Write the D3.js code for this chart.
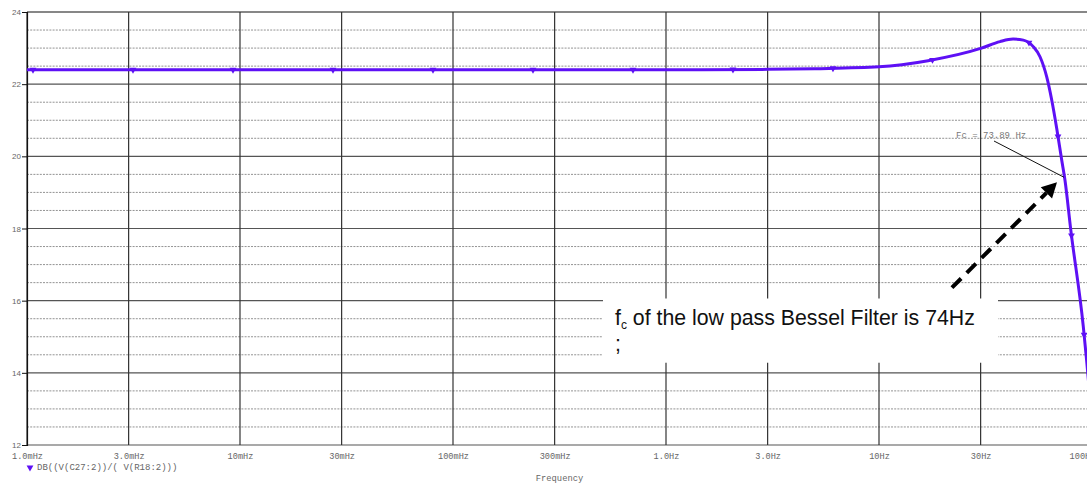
<!DOCTYPE html>
<html><head><meta charset="utf-8">
<script src="https://cdn.jsdelivr.net/npm/d3@7"></script>
<style>html,body{margin:0;padding:0;background:#fff;overflow:hidden}</style>
</head><body>
<svg id="c" width="1087" height="485"></svg>
<script>
// ---- data ----
const freqHz = [0.001, 0.01, 0.1, 1, 3, 5, 10, 17, 30, 37, 42.6, 47.6, 53, 57, 61.3, 64.7, 68.3, 72.1, 74.7, 79.4, 91, 94.4, 100];
const gainDb = [22.40, 22.40, 22.40, 22.40, 22.41, 22.43, 22.48, 22.65, 22.99, 23.18, 23.25, 23.22, 23.04, 22.76, 22.20, 21.56, 20.77, 19.89, 19.33, 17.99, 15.29, 14.33, 12.7];
const xTicks = [0.001, 0.003, 0.01, 0.03, 0.1, 0.3, 1, 3, 10, 30, 100];
const xTickLabels = ["1.0mHz", "3.0mHz", "10mHz", "30mHz", "100mHz", "300mHz", "1.0Hz", "3.0Hz", "10Hz", "30Hz", "100Hz"];
const yTicks = [12, 14, 16, 18, 20, 22, 24];
const yMinor = d3.range(12, 24.01, 0.5);
const traceName = "DB((V(C27:2))/( V(R18:2)))";
const xTitle = "Frequency";
const fcHz = 73.89, fcDb = 19.42, fcLabel = "Fc = 73.89 Hz";
const noteText = ["of the low pass Bessel Filter is 74Hz", ";"];

// ---- layout ----
const L = 27, R = 1092, T = 12, B = 445;
const svg = d3.select("#c");
const x = d3.scaleLog().domain([0.001, 100]).range([L, R]);
const y = d3.scaleLinear().domain([12, 24]).range([B, T]);
const mono = "'Liberation Mono','DejaVu Sans Mono',monospace";
const sans = "'Liberation Sans',Arial,sans-serif";

// minor horizontal grid
svg.append("g").selectAll("line").data(yMinor.filter(v => v % 2 !== 0)).join("line")
  .attr("x1", L).attr("x2", R).attr("y1", d => y(d)).attr("y2", d => y(d))
  .attr("stroke", "#777").attr("stroke-width", 0.8).attr("stroke-dasharray", "2,1.2");
// major horizontal grid
svg.append("g").selectAll("line").data(yTicks).join("line")
  .attr("x1", L).attr("x2", R).attr("y1", d => y(d)).attr("y2", d => y(d))
  .attr("stroke", d => (d === 24 ? "#111" : "#555")).attr("stroke-width", 1.2);
// vertical grid
svg.append("g").selectAll("line").data(xTicks).join("line")
  .attr("x1", d => x(d)).attr("x2", d => x(d)).attr("y1", T).attr("y2", B)
  .attr("stroke", "#333").attr("stroke-width", 1.2);

// y axis ticks and labels
const yAxis = d3.axisLeft(y).tickValues(yTicks).tickSize(5).tickFormat(d3.format("d"));
const ya = svg.append("g").attr("transform", `translate(${L},0)`).call(yAxis);
ya.select(".domain").attr("stroke", "#111").attr("stroke-width", 1.2);
ya.selectAll(".tick line").attr("stroke", "#111");
ya.selectAll(".tick text").attr("font-family", sans).attr("font-size", 8).attr("fill", "#666").attr("x", -6);

// x axis labels
const xAxis = d3.axisBottom(x).tickValues(xTicks).tickSize(0).tickFormat((d, i) => xTickLabels[i]);
const xa = svg.append("g").attr("transform", `translate(0,${B})`).call(xAxis);
xa.select(".domain").remove();
xa.selectAll(".tick text").attr("font-family", mono).attr("font-size", 8.6).attr("fill", "#666").attr("dy", "0").attr("y", 14)
  .attr("x", (d, i) => (i === xTicks.length - 1 ? -10 : 0));

svg.append("text").attr("x", (L + R) / 2).attr("y", 481).attr("text-anchor", "middle")
  .attr("font-family", mono).attr("font-size", 8.8).attr("fill", "#666").text(xTitle);

// trace
const purple = "#5e10f5";
const pts = freqHz.map((f, i) => [f, gainDb[i]]);
const line = d3.line().x(d => x(d[0])).y(d => y(d[1])).curve(d3.curveMonotoneX);
const path = svg.append("path").datum(pts).attr("d", line)
  .attr("fill", "none").attr("stroke", purple).attr("stroke-width", 3);

// markers along the trace every ~100px of arc length
const node = path.node();
const total = node.getTotalLength();
const tri = d3.symbol().type(d3.symbolTriangle).size(20);
const marks = d3.range(6, total, 100).map(l => node.getPointAtLength(l));
svg.append("g").selectAll("path").data(marks).join("path")
  .attr("d", tri).attr("transform", d => `translate(${d.x},${d.y}) rotate(180)`)
  .attr("fill", purple);

// legend
svg.append("path").attr("d", tri).attr("transform", "translate(30,467.5) rotate(180)").attr("fill", purple);
svg.append("text").attr("x", 37).attr("y", 470).attr("font-family", mono).attr("font-size", 9)
  .attr("fill", "#666").text(traceName);

// Fc cursor label
svg.append("text").attr("x", 956).attr("y", 138).attr("font-family", mono).attr("font-size", 9)
  .attr("fill", "#777").text(fcLabel);
svg.append("line").attr("x1", 994).attr("y1", 141).attr("x2", x(fcHz)).attr("y2", y(fcDb))
  .attr("stroke", "#111").attr("stroke-width", 1);

// note box
const bx0 = x(0.506), bx1 = x(36.2), by0 = y(16.06), by1 = y(14.28);
svg.append("rect").attr("x", bx0).attr("y", by0).attr("width", bx1 - bx0).attr("height", by1 - by0).attr("fill", "#fff");
const t = svg.append("text").attr("x", bx0 + 12).attr("y", by0 + 26).attr("font-family", sans).attr("font-size", 21.3).attr("fill", "#111");
t.append("tspan").text("f");
t.append("tspan").attr("font-size", 12).attr("dy", 4).text("c");
t.append("tspan").attr("dy", -4).text(" " + noteText[0]);
svg.append("text").attr("x", bx0 + 12).attr("y", by0 + 52).attr("font-family", sans).attr("font-size", 21.3).attr("fill", "#111").text(noteText[1]);

// dashed arrow
const ax0 = x(22.0), ay0 = y(16.36), ax1 = x(68.5), ay1 = y(19.28);
const ang = Math.atan2(ay1 - ay0, ax1 - ax0);
const headLen = 15;
svg.append("line").attr("x1", ax0).attr("y1", ay0)
  .attr("x2", ax1 - headLen * Math.cos(ang)).attr("y2", ay1 - headLen * Math.sin(ang))
  .attr("stroke", "#000").attr("stroke-width", 4).attr("stroke-dasharray", "13,8");
const hw = 8;
const bxh = ax1 - headLen * Math.cos(ang), byh = ay1 - headLen * Math.sin(ang);
svg.append("path").attr("d", `M${ax1},${ay1} L${bxh - hw * Math.sin(ang)},${byh + hw * Math.cos(ang)} L${bxh + hw * Math.sin(ang)},${byh - hw * Math.cos(ang)} Z`)
  .attr("fill", "#000");
</script>
</body></html>
